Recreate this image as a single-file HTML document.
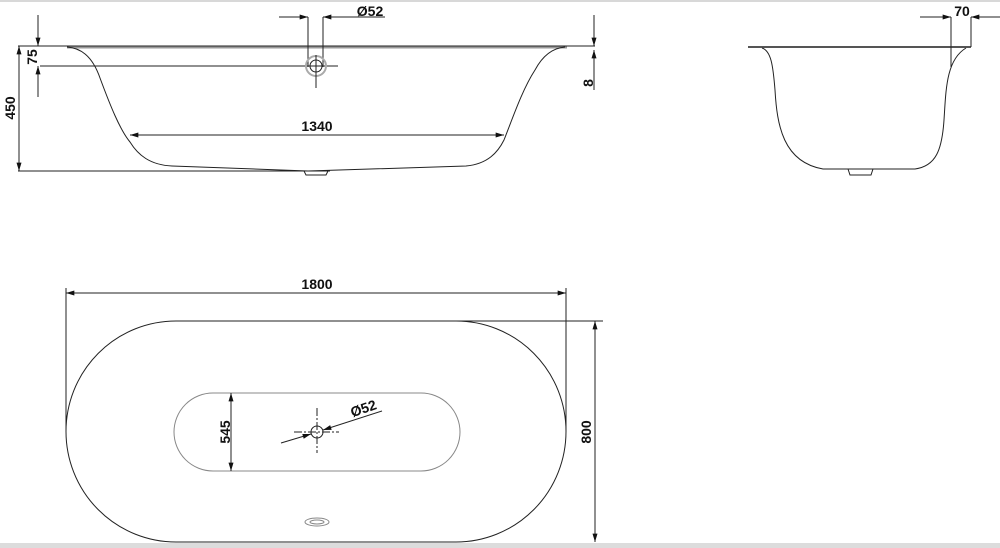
<!DOCTYPE html>
<html><head><style>
html,body{margin:0;padding:0;background:#fff;}
svg{display:block;}
text{font-family:"Liberation Sans",Arial,sans-serif;font-size:14px;font-weight:bold;fill:#111;}
</style></head><body>
<svg width="1000" height="548" viewBox="0 0 1000 548" xmlns="http://www.w3.org/2000/svg">
<defs>
<marker id="a" viewBox="0 0 10 6" refX="10" refY="3" markerWidth="14" markerHeight="5" orient="auto-start-reverse" markerUnits="userSpaceOnUse"><path d="M0,0 L10,3 L0,6 z" fill="#111"/></marker>
</defs>
<rect x="0" y="0" width="1000" height="2" fill="#d8d8d8"/>
<rect x="0" y="543" width="1000" height="5" fill="#dcdcdc"/>
<g stroke="#222" fill="none" stroke-width="1">
<line x1="18" y1="46" x2="595" y2="46"/>
<line x1="67" y1="47.5" x2="567" y2="47.5" stroke="#999" stroke-width="2"/>
<path d="M67,47 C80,48 92,55 100,78 C110,105 120,130 130,142 C138,155 150,165 172,166 L308,171 L466,166 C488,164 498,152 504,140 C512,120 522,90 535,70 C543,55 553,48 565,47"/>
<path d="M304,171 L306,175 L326,175 L328,171"/>
<line x1="38" y1="15" x2="38" y2="46" marker-end="url(#a)"/>
<line x1="38" y1="97" x2="38" y2="66" marker-end="url(#a)"/>
<line x1="40" y1="66" x2="338" y2="66"/>
<line x1="19" y1="46" x2="19" y2="171" marker-start="url(#a)" marker-end="url(#a)"/>
<line x1="18" y1="171" x2="330" y2="171"/>
<line x1="308" y1="17" x2="308" y2="67"/>
<line x1="323" y1="17" x2="323" y2="67"/>
<line x1="279" y1="17" x2="308" y2="17" marker-end="url(#a)"/>
<line x1="385" y1="17" x2="323" y2="17" marker-end="url(#a)"/>
<circle cx="316" cy="66" r="10" stroke="#aaa" stroke-width="2"/>
<circle cx="316" cy="66" r="6"/>
<line x1="316" y1="55" x2="316" y2="88"/>
<line x1="594" y1="15" x2="594" y2="46" marker-end="url(#a)"/>
<line x1="594" y1="90" x2="594" y2="50" marker-end="url(#a)"/>
<line x1="130" y1="135" x2="504" y2="135" marker-start="url(#a)" marker-end="url(#a)"/>
<!-- side view -->
<line x1="748" y1="47" x2="971" y2="47" stroke-width="2" stroke="#555"/>
<path d="M762,48 C771,51 773,65 775,90 C777,125 783,162 823,169 L915,169 C936,166 942,150 944,120 C946,90 946,60 966,48"/>
<path d="M848,169 L850,175 L871,175 L873,169"/>
<line x1="951" y1="17" x2="951" y2="67"/>
<line x1="971" y1="17" x2="971" y2="47"/>
<line x1="920" y1="17" x2="951" y2="17" marker-end="url(#a)"/>
<line x1="1000" y1="17" x2="971" y2="17" marker-end="url(#a)"/>
<!-- plan view -->
<line x1="66" y1="293" x2="566" y2="293" marker-start="url(#a)" marker-end="url(#a)"/>
<line x1="66" y1="288" x2="66" y2="432"/>
<line x1="566" y1="288" x2="566" y2="432"/>
<path d="M176,321 L456,321 A110,110.5 0 0 1 456,542 L176,542 A110,110.5 0 0 1 176,321 Z"/>
<line x1="456" y1="321" x2="603" y2="321"/>
<line x1="595" y1="321" x2="595" y2="542" marker-start="url(#a)" marker-end="url(#a)"/>
<path d="M213,393 L421,393 A39,39 0 0 1 421,471 L213,471 A39,39 0 0 1 213,393 Z" stroke="#888"/>
<line x1="231" y1="393" x2="231" y2="471" marker-start="url(#a)" marker-end="url(#a)"/>
<circle cx="317" cy="432" r="6"/>
<line x1="317" y1="408" x2="317" y2="453" stroke-dasharray="8,2,2,2"/>
<line x1="294" y1="432" x2="339" y2="432" stroke-dasharray="8,2,2,2"/>
<line x1="281" y1="443" x2="311" y2="434" marker-end="url(#a)"/>
<line x1="382" y1="411" x2="323" y2="430" marker-end="url(#a)"/>
<ellipse cx="317" cy="522" rx="12" ry="4" stroke="#888"/>
<ellipse cx="317" cy="522" rx="7" ry="2" stroke="#888"/>
</g>
<text x="370" y="16" text-anchor="middle">Ø52</text>
<text x="962" y="16" text-anchor="middle">70</text>
<text x="317" y="131" text-anchor="middle">1340</text>
<text x="317" y="289" text-anchor="middle">1800</text>
<text transform="translate(37,57) rotate(-90)" text-anchor="middle">75</text>
<text transform="translate(15,108) rotate(-90)" text-anchor="middle">450</text>
<text transform="translate(593,83) rotate(-90)" text-anchor="middle">8</text>
<text transform="translate(591,432) rotate(-90)" text-anchor="middle">800</text>
<text transform="translate(230,432) rotate(-90)" text-anchor="middle">545</text>
<text transform="translate(365,413) rotate(-19)" text-anchor="middle">Ø52</text>
</svg>
</body></html>
